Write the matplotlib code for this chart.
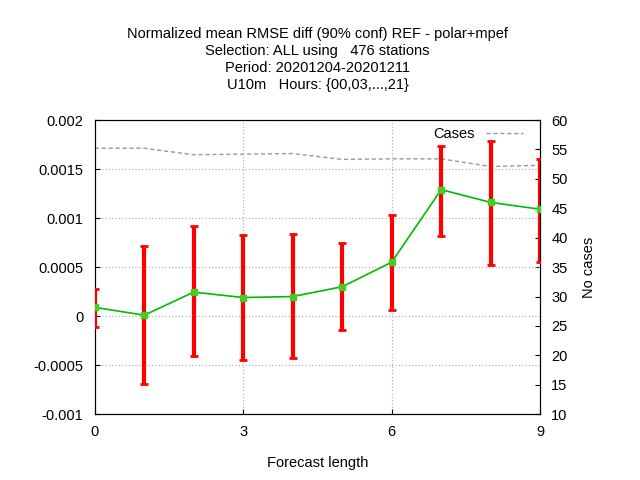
import matplotlib
matplotlib.use("Agg")
import matplotlib.pyplot as plt

# forecast lengths and values
lead = [0, 1, 2, 3, 4, 5, 6, 7, 8, 9]
diff = [0.00009, 0.00001, 0.000245, 0.00019, 0.0002, 0.0003, 0.00055, 0.00129, 0.00116, 0.00109]
upper = [0.000275, 0.00072, 0.00092, 0.00083, 0.00084, 0.00075, 0.00103, 0.00174, 0.00179, 0.0016]
lower = [-0.00011, -0.00069, -0.00041, -0.00045, -0.00043, -0.00014, 0.00006, 0.00082, 0.00052, 0.00055]
cases = [55.2, 55.2, 54.1, 54.2, 54.3, 53.3, 53.4, 53.4, 52.1, 52.3]

plt.rcParams["font.family"] = ["Liberation Sans", "DejaVu Sans"]
plt.rcParams["font.size"] = 10.5

fig, ax = plt.subplots(figsize=(6.4, 4.8), dpi=100)
fig.subplots_adjust(left=0.148, right=0.844, top=0.75, bottom=0.137)

ax2 = ax.twinx()
ax2.plot(lead, cases, color="#999999", linestyle=(0, (3, 2)), linewidth=1, label="Cases")
ax2.set_ylim(10, 60)
ax2.set_yticks(range(10, 61, 5))
ax2.set_ylabel("No cases", labelpad=10)

err_lo = [d - l for d, l in zip(diff, lower)]
err_hi = [u - d for d, u in zip(diff, upper)]
ax.errorbar(lead, diff, yerr=[err_lo, err_hi], fmt="none", ecolor="#ff0000",
            elinewidth=3, capsize=3, capthick=2, zorder=3)
ax.plot(lead, diff, color="#00bb00", linewidth=1.2, marker="s", markersize=5,
        markerfacecolor="#44cc22", markeredgecolor="#44cc22", zorder=4)
ax.set_zorder(ax2.get_zorder() + 1)
ax.patch.set_visible(False)

ax.set_xlim(0, 9)
ax.set_ylim(-0.001, 0.002)
ax.set_xticks([0, 3, 6, 9])
ax.set_yticks([-0.001, -0.0005, 0, 0.0005, 0.001, 0.0015, 0.002])
ax.set_yticklabels(["-0.001", "-0.0005", "0", "0.0005", "0.001", "0.0015", "0.002"])
ax.grid(True, color="#aaaaaa", linestyle=(0, (1, 2)), linewidth=0.8)
ax.set_xlabel("Forecast length", labelpad=12)
for a in (ax, ax2):
    a.tick_params(direction="in", which="both", pad=8)

leg = ax2.legend(loc="upper right", frameon=False, handlelength=2.5,
                 bbox_to_anchor=(0.99, 1.02), markerfirst=False)

ax.set_title("Normalized mean RMSE diff (90% conf) REF - polar+mpef\n"
             "Selection: ALL using   476 stations\n"
             "Period: 20201204-20201211\n"
             "U10m   Hours: {00,03,...,21}", fontsize=10.5, linespacing=1.3, pad=22)

fig.savefig("out.png", dpi=100)
